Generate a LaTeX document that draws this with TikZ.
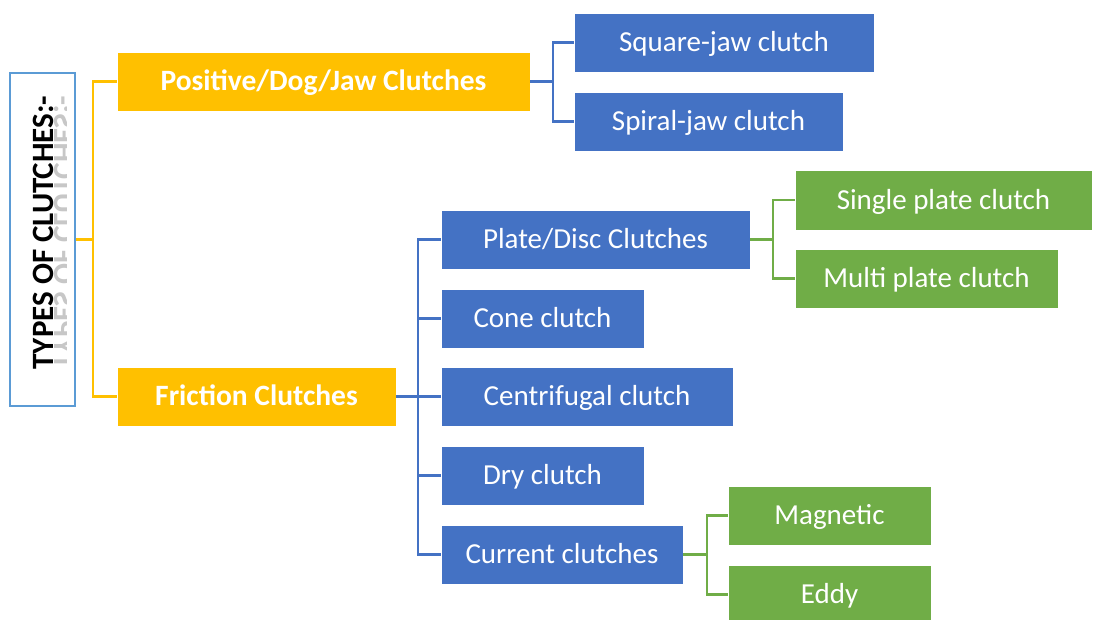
\documentclass[tikz,border=0pt]{standalone}
\usepackage{fontspec}
\setmainfont{Carlito}
\definecolor{cblue}{HTML}{4472C4}
\definecolor{cgreen}{HTML}{70AD47}
\definecolor{cyellow}{HTML}{FFC000}
\definecolor{cframe}{HTML}{5B9BD5}
\tikzset{
  bx/.style={inner sep=0pt, text=white, font=\fontsize{29}{33}\selectfont,
    text height=21.75pt, text depth=3.07pt, draw=white, line width=0.6pt},
  bluebox/.style={bx, fill=cblue},
  greenbox/.style={bx, fill=cgreen},
  yellowbox/.style={bx, fill=cyellow, font=\fontsize{29.5}{33}\selectfont\bfseries},
  yl/.style={draw=cyellow, line width=2.8pt},
  bl/.style={draw=cblue, line width=2.8pt},
  gl/.style={draw=cgreen, line width=2.8pt},
  titlefont/.style={font=\fontsize{31}{35}\selectfont\bfseries}
}
\begin{document}
\begin{tikzpicture}[x=1pt,y=-1pt]
\useasboundingbox (0,0) rectangle (1093,619);
\fill[white] (0,0) rectangle (1093,619);

% title frame with rotated heading and its faded reflection
\node[draw=cframe, line width=2.2pt, minimum width=65pt, minimum height=333pt, inner sep=0pt] (title) at (42.5,239.5) {};
\node[rotate=90, titlefont, inner sep=0pt, anchor=base] (ttext) at (53,232.5) {TYPES OF CLUTCHES:-};
\begin{scope}
  \clip (53.8,80) rectangle (66,390);
  \node[rotate=90, yscale=-1, titlefont, inner sep=0pt, anchor=base, text=black!22] (tmirror) at (54.5,232.5) {TYPES OF CLUTCHES:-};
\end{scope}

% first level
\node[yellowbox, minimum width=413pt, minimum height=59pt] (pos) at (323.5,81.5) {Positive/Dog/Jaw Clutches};
\node[yellowbox, minimum width=279pt, minimum height=59pt] (fric) at (256.5,396.5) {Friction Clutches};

% positive clutches
\node[bluebox, minimum width=300pt, minimum height=59pt] (sq) at (724,42.5) {Square-jaw clutch};
\node[bluebox, minimum width=269pt, minimum height=59pt] (sp) at (708.5,121.5) {Spiral-jaw clutch};

% friction clutches
\node[bluebox, minimum width=309pt, minimum height=59pt] (plate) at (595.5,239.5) {Plate/Disc Clutches};
\node[bluebox, minimum width=203pt, minimum height=59pt] (cone) at (542.5,318.5) {Cone clutch};
\node[bluebox, minimum width=292pt, minimum height=59pt] (cent) at (587,396.5) {Centrifugal clutch};
\node[bluebox, minimum width=203pt, minimum height=59pt] (dry) at (542.5,475.5) {Dry clutch};
\node[bluebox, minimum width=242pt, minimum height=59pt] (curr) at (562,554.5) {Current clutches};

% plate clutches
\node[greenbox, minimum width=297pt, minimum height=60pt] (single) at (943.5,200) {Single plate clutch};
\node[greenbox, minimum width=263pt, minimum height=59pt] (multi) at (926.5,278.5) {Multi plate clutch};

% current clutches
\node[greenbox, minimum width=203pt, minimum height=59pt] (mag) at (829.5,515.5) {Magnetic};
\node[greenbox, minimum width=203pt, minimum height=59pt] (eddy) at (829.5,594.5) {Eddy};

% connectors
\coordinate (j0) at (93,239.5);
\draw[yl] (title.east) -- (j0);
\draw[yl] (j0) |- (pos.west);
\draw[yl] (j0) |- (fric.west);

\coordinate (j1) at (553,81.5);
\draw[bl] (pos.east) -- (j1);
\draw[bl] (j1) |- (sq.west);
\draw[bl] (j1) |- (sp.west);

\coordinate (j2) at (418,396.5);
\draw[bl] (fric.east) -- (j2);
\draw[bl] (j2) |- (plate.west);
\draw[bl] (j2) |- (cone.west);
\draw[bl] (j2) -- (cent.west);
\draw[bl] (j2) |- (dry.west);
\draw[bl] (j2) |- (curr.west);

\coordinate (j3) at (773,239.5);
\draw[gl] (plate.east) -- (j3);
\draw[gl] (j3) |- (single.west);
\draw[gl] (j3) |- (multi.west);

\coordinate (j4) at (707,554.5);
\draw[gl] (curr.east) -- (j4);
\draw[gl] (j4) |- (mag.west);
\draw[gl] (j4) |- (eddy.west);
\end{tikzpicture}
\end{document}
